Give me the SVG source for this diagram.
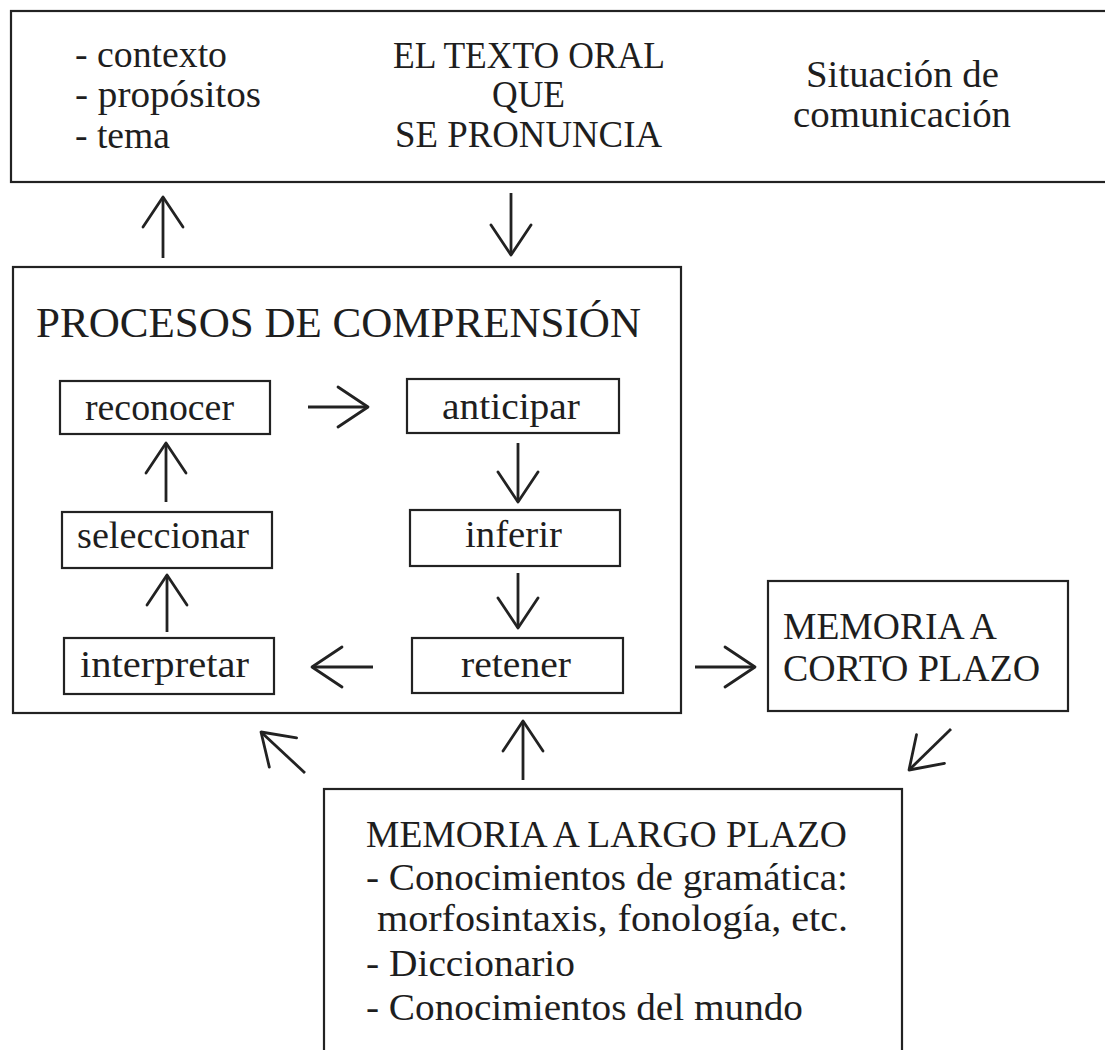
<svg xmlns="http://www.w3.org/2000/svg" width="1105" height="1050" viewBox="0 0 1105 1050">
<defs>
<style>
.box{fill:none;stroke:#222;stroke-width:2.2}
.t{font-family:"Liberation Serif","Times New Roman",serif;font-size:37px;fill:#1e1e1e}
.title{font-size:43px}
.arr{fill:none;stroke:#222;stroke-width:2.8;marker-end:url(#head)}
</style>
<marker id="head" markerUnits="userSpaceOnUse" viewBox="-34 -24 38 48" refX="0" refY="0" markerWidth="38" markerHeight="48" orient="auto" overflow="visible">
<path d="M-30,-20 L0,0 L-30,20" fill="none" stroke="#222" stroke-width="2.8" stroke-linejoin="round" stroke-linecap="round"/>
</marker>
</defs>
<rect width="1105" height="1050" fill="#fff"/>

<g id="texto-oral">
<rect class="box" x="11" y="11" width="1100" height="171"/>
<text class="t" x="75" y="67" textLength="152" lengthAdjust="spacingAndGlyphs">- contexto</text>
<text class="t" x="75" y="107" textLength="186" lengthAdjust="spacingAndGlyphs">- propósitos</text>
<text class="t" x="75" y="148" textLength="95" lengthAdjust="spacingAndGlyphs">- tema</text>
<text class="t" x="393" y="68" textLength="272" lengthAdjust="spacingAndGlyphs">EL TEXTO ORAL</text>
<text class="t" x="492" y="107" textLength="73" lengthAdjust="spacingAndGlyphs">QUE</text>
<text class="t" x="395" y="147" textLength="267" lengthAdjust="spacingAndGlyphs">SE PRONUNCIA</text>
<text class="t" x="806" y="87" textLength="193" lengthAdjust="spacingAndGlyphs">Situación de</text>
<text class="t" x="793" y="127" textLength="218" lengthAdjust="spacingAndGlyphs">comunicación</text>
</g>

<g id="procesos">
<rect class="box" x="13" y="267" width="668" height="446"/>
<text class="t title" x="36" y="337" textLength="605" lengthAdjust="spacingAndGlyphs">PROCESOS DE COMPRENSIÓN</text>
</g>

<g id="reconocer">
<rect class="box" x="60" y="381" width="210" height="53"/>
<text class="t" x="85" y="420" textLength="149" lengthAdjust="spacingAndGlyphs">reconocer</text>
</g>
<g id="anticipar">
<rect class="box" x="407" y="379" width="212" height="54"/>
<text class="t" x="442" y="419" textLength="138" lengthAdjust="spacingAndGlyphs">anticipar</text>
</g>
<g id="seleccionar">
<rect class="box" x="62" y="512" width="210" height="56"/>
<text class="t" x="77" y="548" textLength="172" lengthAdjust="spacingAndGlyphs">seleccionar</text>
</g>
<g id="inferir">
<rect class="box" x="410" y="510" width="210" height="56"/>
<text class="t" x="465" y="547" textLength="97" lengthAdjust="spacingAndGlyphs">inferir</text>
</g>
<g id="interpretar">
<rect class="box" x="64" y="638" width="210" height="56"/>
<text class="t" x="80" y="677" textLength="169" lengthAdjust="spacingAndGlyphs">interpretar</text>
</g>
<g id="retener">
<rect class="box" x="412" y="638" width="211" height="55"/>
<text class="t" x="461" y="677" textLength="110" lengthAdjust="spacingAndGlyphs">retener</text>
</g>

<g id="memoria-corto">
<rect class="box" x="768" y="581" width="300" height="130"/>
<text class="t" x="783" y="639" textLength="214" lengthAdjust="spacingAndGlyphs">MEMORIA A</text>
<text class="t" x="783" y="681" textLength="257" lengthAdjust="spacingAndGlyphs">CORTO PLAZO</text>
</g>

<g id="memoria-largo">
<rect class="box" x="324" y="789" width="578" height="290"/>
<text class="t" x="366" y="847" textLength="481" lengthAdjust="spacingAndGlyphs">MEMORIA A LARGO PLAZO</text>
<text class="t" x="366" y="890" textLength="482" lengthAdjust="spacingAndGlyphs">- Conocimientos de gramática:</text>
<text class="t" x="377" y="931" textLength="471" lengthAdjust="spacingAndGlyphs">morfosintaxis, fonología, etc.</text>
<text class="t" x="366" y="976" textLength="209" lengthAdjust="spacingAndGlyphs">- Diccionario</text>
<text class="t" x="366" y="1020" textLength="437" lengthAdjust="spacingAndGlyphs">- Conocimientos del mundo</text>
</g>

<g id="connectors">
<path class="arr" d="M163,258 L163,197"/>
<path class="arr" d="M511,193 L511,255"/>
<path class="arr" d="M308,407 L368,407"/>
<path class="arr" d="M518,443 L518,502"/>
<path class="arr" d="M518,573 L518,628"/>
<path class="arr" d="M373,667 L312,667"/>
<path class="arr" d="M167,632 L167,575"/>
<path class="arr" d="M166,502 L166,443"/>
<path class="arr" d="M695,667 L755,667"/>
<path class="arr" d="M951,729 L909,770"/>
<path class="arr" d="M523,780 L523,721"/>
<path class="arr" d="M305,773 L261,732"/>
</g>
</svg>
